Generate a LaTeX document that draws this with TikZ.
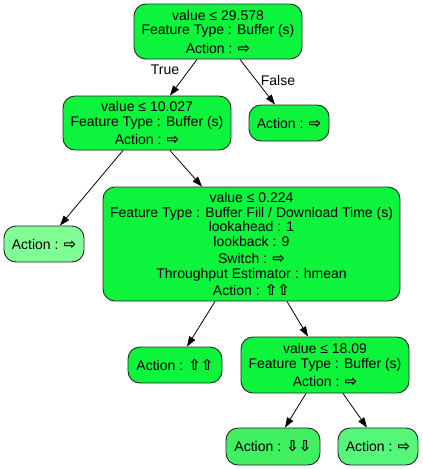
\documentclass[tikz,border=0pt]{standalone}
\usepackage{fontspec}
\setmainfont{Liberation Sans}
\newfontfamily\arrfont{DejaVu Sans Bold}
\newcommand\ArrR{{\arrfont\fontsize{15}{14.5}\selectfont ⇨}}
\newcommand\ArrU{{\arrfont\fontsize{15}{14.5}\selectfont ⇧}}
\newcommand\ArrD{{\arrfont\fontsize{15}{14.5}\selectfont ⇩}}
\usetikzlibrary{arrows.meta}
\definecolor{gmain}{RGB}{12,245,60}
\definecolor{gleafa}{RGB}{128,255,150}
\definecolor{gleafb}{RGB}{64,240,96}
\definecolor{gleafc}{RGB}{85,247,122}
\tikzset{
  tbox/.style={draw=black!85, line width=0.9pt, rounded corners=12pt, align=center,
    inner sep=0pt, font=\fontsize{14}{14.5}\selectfont},
  lab/.style={font=\fontsize{14}{14.5}\selectfont, inner sep=0pt},
  edge/.style={line width=0.8pt, -{Triangle[length=10pt,width=7pt]}}
}
\begin{document}
\begin{tikzpicture}[x=1pt,y=-1pt]
\useasboundingbox (0,0) rectangle (423,469);
\node[tbox, fill=gmain, minimum width=168pt, minimum height=55pt] (root) at (218,31.5)
  {value ≤ 29.578\\Feature Type : Buffer (s)\\[4pt]Action : \ArrR};
\node[tbox, fill=gmain, minimum width=168pt, minimum height=54pt] (n2) at (147,123)
  {value ≤ 10.027\\Feature Type : Buffer (s)\\[4pt]Action : \ArrR};
\node[tbox, fill=gmain, minimum width=80pt, minimum height=36pt] (fl) at (289,123)
  {Action : \ArrR};
\node[tbox, fill=gleafa, minimum width=80pt, minimum height=36pt] (ll) at (44,244)
  {Action : \ArrR};
\node[tbox, fill=gmain, minimum width=297pt, minimum height=114pt] (big) at (251.5,244)
  {value ≤ 0.224\\Feature Type : Buffer Fill / Download Time (s)\\lookahead : 1\\lookback : 9\\[3pt]Switch : \ArrR\\Throughput Estimator : hmean\\[3pt]Action : \ArrU\ArrU};
\node[tbox, fill=gmain, minimum width=94pt, minimum height=36pt] (up) at (175,365)
  {Action : \ArrU\ArrU};
\node[tbox, fill=gmain, minimum width=168pt, minimum height=56pt] (n5) at (325,365)
  {value ≤ 18.09\\Feature Type : Buffer (s)\\[4pt]Action : \ArrR};
\node[tbox, fill=gleafb, minimum width=94pt, minimum height=37pt] (dn) at (273,446.5)
  {Action : \ArrD\ArrD};
\node[tbox, fill=gleafc, minimum width=80pt, minimum height=37pt] (rr) at (378,446.5)
  {Action : \ArrR};
\draw[edge] ([xshift=-21pt]root.south) -- ([xshift=23pt]n2.north);
\draw[edge] ([xshift=22pt]root.south) -- ([xshift=-14pt]fl.north);
\draw[edge] ([xshift=-24pt]n2.south) -- ([xshift=16pt]ll.north);
\draw[edge] ([xshift=23pt]n2.south) -- ([xshift=-49.5pt]big.north);
\draw[edge] ([xshift=-36.5pt]big.south) -- ([xshift=12pt]up.north);
\draw[edge] ([xshift=35.5pt]big.south) -- ([xshift=-17pt]n5.north);
\draw[edge] ([xshift=-19pt]n5.south) -- ([xshift=12pt]dn.north);
\draw[edge] ([xshift=18pt]n5.south) -- ([xshift=-11pt]rr.north);
\node[lab] (ltrue) at (165,70) {True};
\node[lab] (lfalse) at (278,80) {False};
\end{tikzpicture}
\end{document}
